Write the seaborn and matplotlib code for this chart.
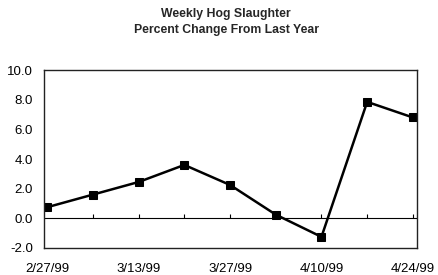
import matplotlib
matplotlib.use('Agg')
import matplotlib.pyplot as plt
import seaborn as sns
import pandas as pd

weeks = ['2/27/99', '3/6/99', '3/13/99', '3/20/99', '3/27/99', '4/3/99', '4/10/99', '4/17/99', '4/24/99']
pct_change = [0.75, 1.6, 2.45, 3.6, 2.25, 0.25, -1.25, 7.85, 6.8]

sns.set_theme(style='white')
plt.rcParams['font.family'] = ['Liberation Sans', 'DejaVu Sans']

data = pd.DataFrame({'week': range(len(weeks)), 'pct': pct_change})

fig = plt.figure(figsize=(4.38, 2.75), dpi=100)
ax = fig.add_axes([44 / 438, 1 - 248 / 275, (417 - 44) / 438, (248 - 70) / 275])

sns.lineplot(x='week', y='pct', data=data, ax=ax, color='black', linewidth=1.8,
             marker='s', markersize=6, markeredgecolor='black', markerfacecolor='black')

# zero line with small upward tick marks at each week
ax.axhline(0, color='black', linewidth=0.8, zorder=1)
ax.vlines(data['week'][1:], 0, 0.28, color='black', linewidth=0.8)

ax.set_xlim(-0.07, len(weeks) - 1 + 0.09)
ax.set_ylim(-2, 10)
ax.set_yticks([-2, 0, 2, 4, 6, 8, 10])
ax.set_yticklabels([f'{v:.1f}' for v in [-2, 0, 2, 4, 6, 8, 10]], fontsize=9.5)
ax.set_xticks(data['week'][::2])
ax.set_xticklabels(weeks[::2], fontsize=9.5)
ax.tick_params(axis='both', length=0, colors='black')
ax.tick_params(axis='y', pad=8)
ax.tick_params(axis='x', pad=11)
ax.set_xlabel('')
ax.set_ylabel('')
for s in ax.spines.values():
    s.set_color('#222222')
    s.set_linewidth(1.0)

fig.text(226 / 438, 1 - 14 / 275, 'Weekly Hog Slaughter', ha='center', va='center',
         fontsize=8.8, fontweight='bold')
fig.text(226 / 438, 1 - 30 / 275, 'Percent Change From Last Year', ha='center', va='center',
         fontsize=8.8, fontweight='bold')

fig.savefig('out.png', dpi=100)
